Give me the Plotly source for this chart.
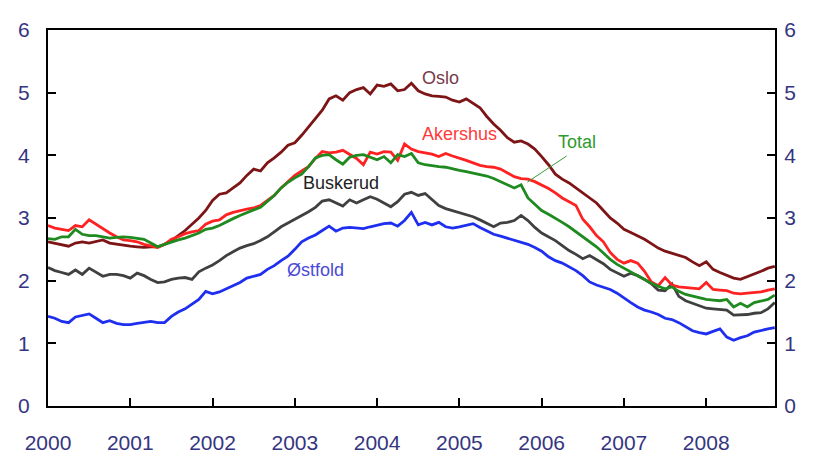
import plotly.graph_objects as go

# Monthly data, Jan 2000 .. Nov 2008 (index 0..106)
start_year = 2000
oslo = [2.62, 2.60, 2.57, 2.55, 2.60, 2.62, 2.60, 2.63, 2.65, 2.60, 2.58, 2.56,
        2.55, 2.54, 2.53, 2.54, 2.54, 2.58, 2.64, 2.72, 2.80, 2.90, 3.00, 3.12,
        3.28, 3.38, 3.40, 3.48, 3.56, 3.68, 3.78, 3.75, 3.88, 3.96, 4.05, 4.16,
        4.20, 4.32, 4.45, 4.58, 4.72, 4.90, 4.95, 4.88, 5.00, 5.05, 5.08, 4.98,
        5.12, 5.10, 5.14, 5.03, 5.05, 5.15, 5.03, 4.98, 4.95, 4.94, 4.93, 4.88,
        4.85, 4.90, 4.83, 4.76, 4.62, 4.50, 4.40, 4.28, 4.21, 4.23, 4.18, 4.10,
        3.98, 3.85, 3.70, 3.62, 3.56, 3.48, 3.40, 3.32, 3.24, 3.12, 3.00, 2.92,
        2.82, 2.77, 2.72, 2.66, 2.59, 2.52, 2.47, 2.44, 2.40, 2.37, 2.30, 2.24,
        2.30, 2.18, 2.13, 2.09, 2.04, 2.02, 2.06, 2.10, 2.15, 2.20, 2.23]
akershus = [2.88, 2.84, 2.82, 2.80, 2.88, 2.86, 2.97, 2.90, 2.82, 2.76, 2.70, 2.65,
            2.64, 2.62, 2.58, 2.55, 2.53, 2.58, 2.66, 2.70, 2.75, 2.78, 2.80, 2.90,
            2.95, 2.97, 3.05, 3.09, 3.12, 3.14, 3.16, 3.20, 3.28, 3.36, 3.48, 3.58,
            3.68, 3.75, 3.82, 3.95, 4.06, 4.04, 4.05, 4.08, 4.02, 3.95, 3.85, 4.05,
            4.02, 4.06, 4.05, 3.92, 4.18, 4.10, 4.06, 4.04, 4.02, 3.98, 4.03, 3.99,
            3.96, 3.92, 3.88, 3.84, 3.82, 3.81, 3.78, 3.72, 3.66, 3.63, 3.62, 3.58,
            3.53, 3.47, 3.40, 3.32, 3.26, 3.20, 2.98, 2.86, 2.72, 2.62, 2.45, 2.34,
            2.28, 2.32, 2.28, 2.15, 1.98, 1.92, 2.05, 1.93, 1.90, 1.89, 1.88, 1.87,
            1.97, 1.86, 1.85, 1.84, 1.80, 1.79, 1.80, 1.81, 1.82, 1.85, 1.87]
total = [2.67, 2.66, 2.70, 2.70, 2.82, 2.74, 2.72, 2.72, 2.70, 2.68, 2.69, 2.70,
         2.69, 2.68, 2.66, 2.60, 2.54, 2.58, 2.62, 2.65, 2.68, 2.72, 2.76, 2.82,
         2.84, 2.88, 2.94, 2.99, 3.04, 3.09, 3.13, 3.17, 3.26, 3.36, 3.48, 3.57,
         3.64, 3.70, 3.82, 3.96, 4.00, 4.01, 3.93, 3.86, 3.97, 4.00, 4.01, 3.97,
         3.93, 3.98, 3.88, 4.01, 3.98, 4.03, 3.88, 3.85, 3.83, 3.82, 3.81, 3.78,
         3.76, 3.74, 3.72, 3.70, 3.67, 3.63, 3.58, 3.54, 3.48, 3.53, 3.32, 3.22,
         3.12, 3.06, 3.00, 2.93, 2.86, 2.78, 2.71, 2.62, 2.54, 2.44, 2.34, 2.26,
         2.20, 2.13, 2.07, 2.02, 1.96, 1.91, 1.87, 1.90, 1.83, 1.78, 1.75, 1.72,
         1.70, 1.69, 1.68, 1.70, 1.58, 1.64, 1.58, 1.65, 1.67, 1.70, 1.77]
buskerud = [2.21, 2.16, 2.13, 2.10, 2.17, 2.10, 2.20, 2.14, 2.07, 2.10, 2.10, 2.08,
            2.04, 2.12, 2.08, 2.02, 1.97, 1.98, 2.02, 2.04, 2.05, 2.02, 2.14, 2.20,
            2.25, 2.32, 2.40, 2.46, 2.52, 2.56, 2.59, 2.64, 2.70, 2.78, 2.86, 2.92,
            2.98, 3.03, 3.10, 3.17, 3.27, 3.29, 3.24, 3.19, 3.29, 3.24, 3.29, 3.34,
            3.30, 3.24, 3.18, 3.26, 3.38, 3.41, 3.36, 3.39, 3.30, 3.20, 3.15, 3.12,
            3.09, 3.06, 3.02, 2.97, 2.91, 2.86, 2.92, 2.93, 2.96, 3.04, 2.96, 2.85,
            2.76, 2.70, 2.64, 2.56, 2.48, 2.42, 2.35, 2.40, 2.34, 2.27, 2.18, 2.12,
            2.07, 2.12, 2.08, 2.02, 1.95, 1.85, 1.84, 1.95, 1.75, 1.68, 1.64, 1.60,
            1.56, 1.55, 1.54, 1.53, 1.45, 1.45, 1.46, 1.48, 1.49, 1.55, 1.65]
ostfold = [1.43, 1.40, 1.35, 1.33, 1.42, 1.45, 1.47, 1.40, 1.33, 1.36, 1.32, 1.30,
           1.30, 1.32, 1.33, 1.35, 1.33, 1.33, 1.43, 1.50, 1.55, 1.62, 1.70, 1.83,
           1.79, 1.82, 1.87, 1.93, 1.97, 2.04, 2.07, 2.10, 2.18, 2.24, 2.32, 2.39,
           2.50, 2.62, 2.68, 2.73, 2.80, 2.87, 2.79, 2.84, 2.85, 2.84, 2.83, 2.86,
           2.89, 2.91, 2.92, 2.87, 2.96, 3.09, 2.89, 2.93, 2.89, 2.93, 2.86, 2.84,
           2.86, 2.88, 2.91, 2.85, 2.79, 2.74, 2.71, 2.68, 2.64, 2.62, 2.58, 2.53,
           2.47, 2.38, 2.32, 2.28, 2.22, 2.16, 2.08, 1.98, 1.93, 1.89, 1.86, 1.80,
           1.72, 1.65, 1.58, 1.53, 1.50, 1.46, 1.40, 1.38, 1.33, 1.27, 1.20, 1.17,
           1.15, 1.19, 1.23, 1.10, 1.05, 1.09, 1.12, 1.18, 1.21, 1.23, 1.25]

series_names = ["Oslo", "Akershus", "Total", "Buskerud", "Østfold"]
series_values = [oslo, akershus, total, buskerud, ostfold]
series_colors = ["#7d1416", "#ff2222", "#1f8a1f", "#404040", "#1f2ff0"]
label_colors = ["#7a3a4a", "#ff3a3a", "#2f9a2f", "#222222", "#4a4ad8"]
label_x = [2004.776, 2004.997, 2006.424, 2003.564, 2003.254]
label_y = [5.233, 4.34, 4.206, 3.56, 2.174]
year_ticks = list(range(2000, 2009))
y_ticks = [0, 1, 2, 3, 4, 5, 6]

x = [start_year + i / 12 for i in range(len(oslo))]

fig = go.Figure()
order = [0, 3, 4, 1, 2]
for k in order:
    fig.add_trace(go.Scatter(x=x, y=series_values[k], mode="lines", name=series_names[k],
                             line=dict(color=series_colors[k], width=2.8),
                             showlegend=False, hoverinfo="skip"))
# invisible trace to anchor right axis
fig.add_trace(go.Scatter(x=[x[0]], y=[oslo[0]], yaxis="y2", mode="markers",
                         marker=dict(opacity=0), showlegend=False, hoverinfo="skip"))

for n, c, lx, ly in zip(series_names, label_colors, label_x, label_y):
    fig.add_annotation(x=lx, y=ly, text=n, showarrow=False, xref="x", yref="y",
                       font=dict(family="Liberation Sans, Arial", size=18, color=c))

# leader line for Total
fig.add_shape(type="line", xref="x", yref="y", x0=2006.304, y0=3.99, x1=2005.827, y1=3.573,
              line=dict(color="#3a9a3a", width=1))

# figure sized so that page (with the default 8px body margin) is exactly 814x472
tick_font = dict(family="Liberation Sans, Arial", size=21, color="#35357f")
fig.update_layout(
    width=798, height=456,
    margin=dict(l=37, r=21, t=10, b=43),
    plot_bgcolor="white", paper_bgcolor="white",
    xaxis=dict(range=[2000, 2008.836], tickvals=year_ticks, ticktext=[str(y) for y in year_ticks],
               ticks="inside", ticklen=8, tickwidth=1.5, tickcolor="black",
               showline=True, linecolor="black", linewidth=2, mirror=True,
               showgrid=False, zeroline=False, tickfont=tick_font, ticklabelstandoff=17),
    yaxis=dict(range=[0, 6], tickvals=y_ticks, ticks="inside", ticklen=8, tickwidth=1.5,
               tickcolor="black", showline=True, linecolor="black", linewidth=2, mirror=True,
               showgrid=False, zeroline=False, tickfont=tick_font, ticklabelstandoff=12),
    yaxis2=dict(range=[0, 6], tickvals=y_ticks, ticks="inside", ticklen=8, tickwidth=1.5,
                tickcolor="black", showline=True, linecolor="black", linewidth=2,
                overlaying="y", side="right", showgrid=False, zeroline=False,
                tickfont=tick_font, ticklabelstandoff=3),
)

fig.write_html("out.html")
